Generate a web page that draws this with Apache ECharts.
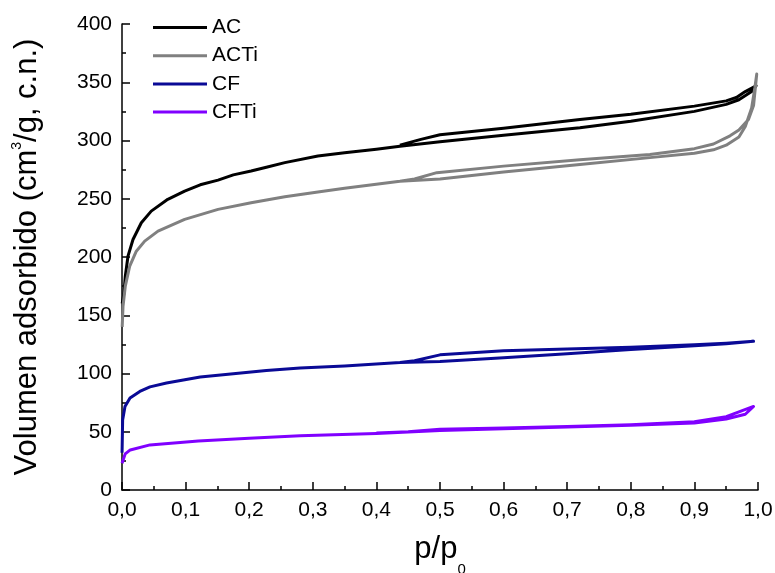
<!DOCTYPE html>
<html>
<head>
<meta charset="utf-8">
<script src="https://cdn.jsdelivr.net/npm/echarts@6/dist/echarts.min.js"></script>
<style>html,body{margin:0;padding:0;background:#fff}#c{width:775px;height:573px}</style>
</head>
<body>
<div id="c"></div>
<script>
// Series names
const seriesNames = ['AC', 'ACTi', 'CF', 'CFTi'];
// Axis ticks
const xTicks = [0, 0.1, 0.2, 0.3, 0.4, 0.5, 0.6, 0.7, 0.8, 0.9, 1.0];
const yTicks = [0, 50, 100, 150, 200, 250, 300, 350, 400];

// AC: adsorption then desorption branch (p/p0, volume)
const acP = [0.0003, 0.0031, 0.0052, 0.0094, 0.0173, 0.0304, 0.046, 0.072, 0.0985, 0.123, 0.151, 0.175, 0.203, 0.227, 0.256, 0.308, 0.35, 0.4, 0.437, 0.5, 0.6, 0.72, 0.8, 0.9, 0.95, 0.97, 0.99, 0.997,
             0.98, 0.966, 0.95, 0.9, 0.8, 0.72, 0.6, 0.5, 0.47, 0.437];
const acV = [160, 169, 183.5, 200.7, 215, 229.4, 239.4, 249.5, 256.6, 262, 266, 270.5, 273.8, 277, 281, 286.7, 289.5, 292.5, 295, 299, 304.5, 311, 316.5, 325, 331, 335, 342, 347,
             342, 337, 334, 329.5, 322.5, 318, 310.5, 305, 301, 296];

// ACTi
const actiP = [0.0003, 0.0016, 0.0052, 0.012, 0.0225, 0.0357, 0.0566, 0.0985, 0.151, 0.203, 0.256, 0.308, 0.35, 0.437, 0.5, 0.6, 0.72, 0.83, 0.9, 0.93, 0.95, 0.97, 0.98, 0.99, 0.995, 0.998,
               0.993, 0.985, 0.97, 0.956, 0.93, 0.9, 0.83, 0.72, 0.6, 0.495, 0.46, 0.437];
const actiV = [140, 157.7, 175, 192, 205, 213.6, 222.2, 232.3, 240.9, 246.6, 251.8, 255.8, 259, 265, 267, 273, 279.5, 285.3, 289, 292, 296, 303, 312, 328, 345, 357,
               330, 318, 309, 304, 297, 293, 288, 283.5, 278, 272.4, 267, 265];

// CF
const cfP = [0.0001, 0.001, 0.0047, 0.0126, 0.028, 0.044, 0.07, 0.123, 0.175, 0.227, 0.28, 0.35, 0.437, 0.5, 0.6, 0.7, 0.8, 0.9, 0.95, 0.993,
             0.95, 0.9, 0.8, 0.7, 0.6, 0.5, 0.46, 0.437];
const cfV = [32, 60, 71.6, 79, 84.6, 88.5, 91.8, 97, 99.8, 102.6, 104.7, 106.5, 109.5, 110.4, 113.5, 117, 120.5, 123.8, 125.5, 127.6,
             126, 124.7, 122.5, 121, 119.5, 116, 111, 109.5];

// CFTi
const cftiP = [0.0001, 0.005, 0.013, 0.044, 0.12, 0.2, 0.28, 0.4, 0.5, 0.6, 0.7, 0.8, 0.9, 0.95, 0.98, 0.993,
               0.99, 0.97, 0.95, 0.9, 0.8, 0.7, 0.6, 0.5, 0.45, 0.4];
const cftiV = [23, 31, 34.4, 38.7, 42, 44.5, 46.5, 48.5, 51, 52.5, 54, 55.5, 57.5, 61, 65, 71.7,
               70, 67, 63, 58.5, 56, 54.5, 53.3, 52.2, 50, 49];

const colors = ['#000000', '#808080', '#0a0a96', '#8000ff'];
const zip = (a, b) => a.map((v, i) => [v, b[i]]);
const dataSets = [zip(acP, acV), zip(actiP, actiV), zip(cfP, cfV), zip(cftiP, cftiV)];

const chart = echarts.init(document.getElementById('c'), null, {renderer: 'canvas'});
const font = 'Liberation Sans, Arial, sans-serif';
chart.setOption({
  animation: false,
  backgroundColor: '#fff',
  grid: {left: 122, right: 17, top: 24, bottom: 83, containLabel: false, outerBoundsMode: 'none'},
  legend: {
    orient: 'vertical', left: 153, top: 17, padding: 0,
    itemWidth: 54, itemHeight: 3, itemGap: 7.2, icon: 'rect',
    textStyle: {fontFamily: font, fontSize: 21, color: '#000', lineHeight: 21},
    data: seriesNames
  },
  xAxis: {
    type: 'value', min: 0, max: 1, interval: 0.1,
    name: '{a|p/p}{s|0}', nameLocation: 'middle', nameGap: 44,
    nameTextStyle: {rich: {
      a: {fontFamily: font, fontSize: 31, color: '#000', verticalAlign: 'bottom', padding: [0, 0, 12, 0]},
      s: {fontFamily: font, fontSize: 15, color: '#000', verticalAlign: 'bottom'}}},
    axisLine: {show: true, lineStyle: {color: '#000', width: 1.5}},
    axisTick: {show: true, inside: true, length: 8, lineStyle: {color: '#000', width: 1.5}},
    minorTick: {show: true, splitNumber: 2, length: 4, lineStyle: {color: '#000', width: 1.5}},
    splitLine: {show: false},
    axisLabel: {fontFamily: font, fontSize: 21, color: '#000', margin: 10, formatter: v => v.toFixed(1).replace('.', ',')}
  },
  yAxis: {
    type: 'value', min: 0, max: 400, interval: 50,
    name: '{t|Volumen adsorbido (cm}{sup|3}{t|/g, c.n.)}', nameLocation: 'middle', nameGap: 79, nameRotate: 90,
    nameTextStyle: {rich: {
      t: {fontFamily: font, fontSize: 31, color: '#000', verticalAlign: 'bottom'},
      sup: {fontFamily: font, fontSize: 14, color: '#000', verticalAlign: 'bottom', padding: [0, 0, 19, 0]}}},
    axisLine: {show: true, lineStyle: {color: '#000', width: 1.5}},
    axisTick: {show: true, inside: true, length: 8, lineStyle: {color: '#000', width: 1.5}},
    minorTick: {show: true, splitNumber: 2, length: 4, lineStyle: {color: '#000', width: 1.5}},
    splitLine: {show: false},
    axisLabel: {fontFamily: font, fontSize: 21, color: '#000', margin: 10}
  },
  series: seriesNames.map((n, i) => ({
    name: n, type: 'line', data: dataSets[i], showSymbol: false, symbol: 'none',
    smooth: false, clip: false,
    itemStyle: {color: colors[i]},
    lineStyle: {color: colors[i], width: 3, join: 'round'}
  }))
});
</script>
</body>
</html>
